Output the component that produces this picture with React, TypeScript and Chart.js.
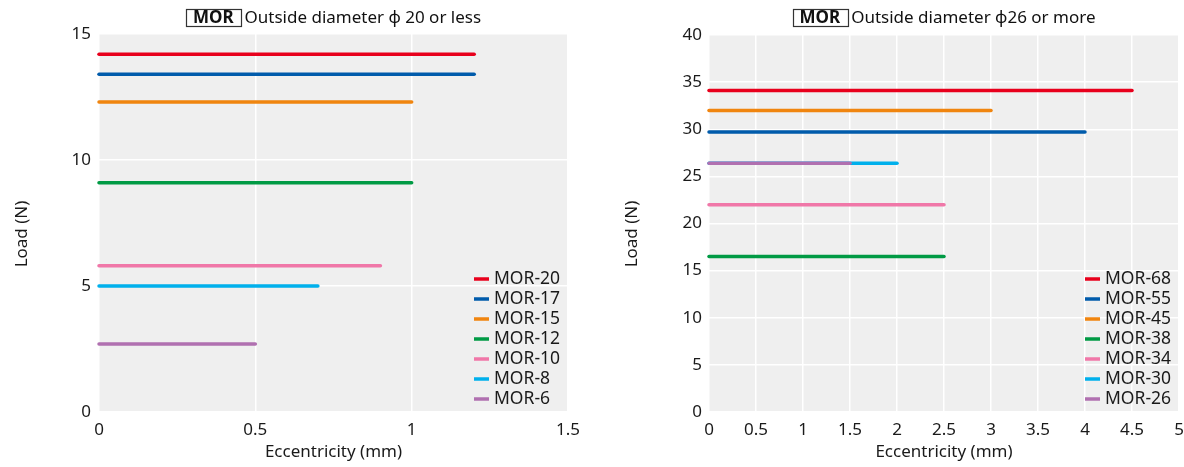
import React, { useEffect, useRef } from "react";
import { Chart, registerables } from "chart.js";

Chart.register(...registerables);

const FONT = "'Noto Sans', 'DejaVu Sans', sans-serif";

const seriesColors = ["#e8001c", "#005bab", "#f0850f", "#009a44", "#f077a8", "#00b0ec", "#b070b0"];

// Left chart: outside diameter φ20 or less
const leftLabels = ["MOR-20", "MOR-17", "MOR-15", "MOR-12", "MOR-10", "MOR-8", "MOR-6"];
const leftLoads = [14.2, 13.4, 12.3, 9.1, 5.8, 5.0, 2.7];
const leftMaxEcc = [1.2, 1.2, 1.0, 1.0, 0.9, 0.7, 0.5];

// Right chart: outside diameter φ26 or more
const rightLabels = ["MOR-68", "MOR-55", "MOR-45", "MOR-38", "MOR-34", "MOR-30", "MOR-26"];
const rightLoads = [34.1, 29.7, 32.0, 16.5, 22.0, 26.4, 26.4];
const rightMaxEcc = [4.5, 4.0, 3.0, 2.5, 2.5, 2.0, 1.5];

const leftAxis = { xMax: 1.5, xStep: 0.5, yMax: 15, yStep: 5 };
const rightAxis = { xMax: 5, xStep: 0.5, yMax: 40, yStep: 5 };

const xTitle = "Eccentricity (mm)";
const yTitle = "Load (N)";

type Props = {
  width: number;
  height: number;
  labels: string[];
  loads: number[];
  ends: number[];
  axis: { xMax: number; xStep: number; yMax: number; yStep: number };
  titleRest: string;
  plotLeft: number;
  plotRight: number;
  plotTop: number;
  plotBottom: number;
  yTitleX: number;
  yTickPad: number;
};

function ChartPanel(p: Props) {
  const ref = useRef<HTMLCanvasElement | null>(null);
  useEffect(() => {
    if (!ref.current) return;
    const datasets = p.labels.map((lab, i) => ({
      label: lab,
      data: [
        { x: 0, y: p.loads[i] },
        { x: p.ends[i], y: p.loads[i] },
      ],
      borderColor: seriesColors[i],
      backgroundColor: seriesColors[i],
      borderWidth: 3.5,
      borderCapStyle: "round" as const,
      pointRadius: 0,
      pointHoverRadius: 0,
      clip: false as const,
      order: i === p.labels.length - 1 ? -1 : 0,
    }));

    const bgPlugin = {
      id: "plotBg",
      beforeDraw(chart: any) {
        const { ctx, chartArea } = chart;
        ctx.save();
        ctx.fillStyle = "#efefef";
        ctx.fillRect(chartArea.left, chartArea.top, chartArea.right - chartArea.left, chartArea.bottom - chartArea.top);
        ctx.restore();
      },
    };

    const titleLegendPlugin = {
      id: "titleLegend",
      afterDraw(chart: any) {
        const { ctx, chartArea } = chart;
        ctx.save();
        // Title
        const cx = (chartArea.left + chartArea.right) / 2;
        const cy = 17.5;
        ctx.font = `bold 17px ${FONT}`;
        const w1 = ctx.measureText("MOR").width;
        ctx.font = `17px ${FONT}`;
        const w2 = ctx.measureText(p.titleRest).width;
        const padX = 7;
        const gap = 4;
        const boxW = w1 + padX * 2;
        const total = boxW + gap + w2;
        const x0 = cx - total / 2;
        ctx.strokeStyle = "#333";
        ctx.lineWidth = 1.2;
        ctx.strokeRect(Math.round(x0) + 0.5, 9.5, Math.round(boxW), 17);
        ctx.fillStyle = "#111";
        ctx.textBaseline = "middle";
        ctx.textAlign = "left";
        ctx.font = `bold 17px ${FONT}`;
        ctx.fillText("MOR", x0 + padX, cy + 0.5);
        ctx.font = `17px ${FONT}`;
        ctx.fillText(p.titleRest, x0 + boxW + gap, cy + 0.5);

        // Y axis title
        ctx.save();
        ctx.translate(p.yTitleX, 234);
        ctx.rotate(-Math.PI / 2);
        ctx.textAlign = "center";
        ctx.textBaseline = "middle";
        ctx.font = `17px ${FONT}`;
        ctx.fillStyle = "#1a1a1a";
        ctx.fillText(yTitle, 0, 0);
        ctx.restore();

        // Legend
        const n = chart.data.datasets.length;
        ctx.font = `17.5px ${FONT}`;
        ctx.textAlign = "left";
        ctx.textBaseline = "middle";
        chart.data.datasets.forEach((ds: any, i: number) => {
          const y = chartArea.bottom - 13 - (n - 1 - i) * 20;
          const lx = chartArea.right - 94;
          ctx.strokeStyle = ds.borderColor;
          ctx.lineWidth = 3.5;
          ctx.lineCap = "butt";
          ctx.beginPath();
          ctx.moveTo(lx, y);
          ctx.lineTo(lx + 15, y);
          ctx.stroke();
          ctx.fillStyle = "#1a1a1a";
          ctx.fillText(ds.label, lx + 20, y + 0.5);
        });
        ctx.restore();
      },
    };

    const W = p.width;
    const H = p.height;
    const chart = new Chart(ref.current, {
      type: "line",
      data: { datasets },
      plugins: [bgPlugin, titleLegendPlugin],
      options: {
        responsive: false,
        animation: false,
        devicePixelRatio: 1,
        layout: {
          padding: { left: 0, right: W - p.plotRight, top: p.plotTop, bottom: 0 },
        },
        plugins: {
          legend: { display: false },
          title: { display: false },
          tooltip: { enabled: false },
        },
        scales: {
          x: {
            type: "linear",
            min: 0,
            max: p.axis.xMax,
            border: { display: false },
            grid: { color: "#ffffff", lineWidth: 1.5, drawTicks: false },
            ticks: {
              stepSize: p.axis.xStep,
              padding: 8,
              color: "#1a1a1a",
              font: { family: FONT, size: 17 },
              callback: (v: any) => String(v),
              maxRotation: 0,
              autoSkip: false,
            },
            title: {
              display: true,
              text: xTitle,
              color: "#1a1a1a",
              font: { family: FONT, size: 17 },
              padding: { top: 0, bottom: 5 },
            },
            afterFit: (s: any) => {
              s.height = H - p.plotBottom;
              s.paddingLeft = 0;
              s.paddingRight = 0;
            },
          },
          y: {
            type: "linear",
            min: 0,
            max: p.axis.yMax,
            border: { display: false },
            grid: { color: "#ffffff", lineWidth: 1.5, drawTicks: false },
            ticks: {
              stepSize: p.axis.yStep,
              padding: p.yTickPad,
              color: "#1a1a1a",
              font: { family: FONT, size: 17 },
              callback: (v: any) => String(v),
            },
            title: { display: false },
            afterFit: (s: any) => {
              s.width = p.plotLeft;
              s.paddingTop = 0;
              s.paddingBottom = 0;
            },
          },
        },
      },
    } as any);
    return () => chart.destroy();
  }, []);
  return <canvas ref={ref} width={p.width} height={p.height} style={{ display: "block", width: p.width, height: p.height }} />;
}

export default function App() {
  return (
    <div style={{ position: "absolute", left: 0, top: 0, width: 1184, height: 467, display: "flex", background: "#fff" }}>
      <ChartPanel
        width={600}
        height={467}
        labels={leftLabels}
        loads={leftLoads}
        ends={leftMaxEcc}
        axis={leftAxis}
        titleRest="Outside diameter ϕ 20 or less"
        plotLeft={99}
        plotRight={568}
        plotTop={34}
        plotBottom={412}
        yTitleX={22}
        yTickPad={8}
      />
      <ChartPanel
        width={584}
        height={467}
        labels={rightLabels}
        loads={rightLoads}
        ends={rightMaxEcc}
        axis={rightAxis}
        titleRest="Outside diameter ϕ26 or more"
        plotLeft={109}
        plotRight={579}
        plotTop={35}
        plotBottom={412}
        yTitleX={32}
        yTickPad={7}
      />
    </div>
  );
}
